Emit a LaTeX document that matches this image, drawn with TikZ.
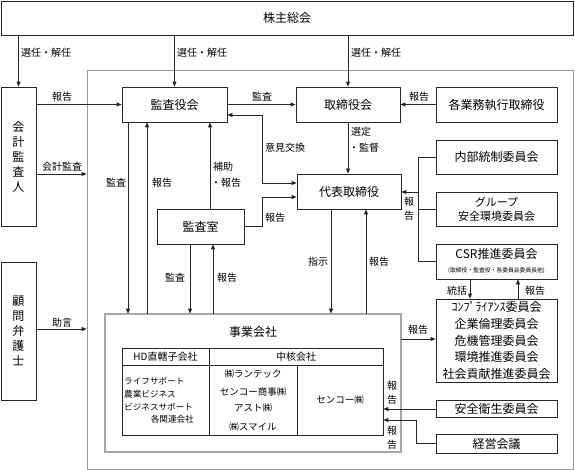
\documentclass[tikz,border=0pt]{standalone}
\usepackage{fontspec}
\setmainfont{Noto Sans CJK JP}
\usetikzlibrary{arrows.meta}
\begin{document}
\begin{tikzpicture}[x=1pt,y=-1pt,
  box/.style={draw=black!85, line width=0.8pt, inner sep=0pt, font=\fontsize{12}{14}\selectfont},
  lbl/.style={inner sep=0pt, font=\fontsize{10}{14}\selectfont, align=center},
  tbl/.style={inner sep=0pt, font=\fontsize{9.5}{12}\selectfont},
  arr/.style={-{Triangle[length=5pt,width=4pt]}, line width=0.8pt, draw=black!85},
  darr/.style={{Triangle[length=5pt,width=4pt]}-{Triangle[length=5pt,width=4pt]}, line width=0.8pt, draw=black!85},
  ln/.style={line width=0.8pt, draw=black!85}
]
\useasboundingbox (0,0) rectangle (575,470);
% outer frame
\node[draw=black!40, line width=0.8pt, minimum width=486pt, minimum height=399pt, inner sep=0pt] (frame) at (330,269.5) {};
% boxes
\node[box, minimum width=572pt, minimum height=34pt] (share) at (287,18) {株主総会};
\node[box, minimum width=35pt, minimum height=139pt, align=center, font=\fontsize{12}{15}\selectfont] (kaikei) at (18.5,156.5) {会\\計\\監\\査\\人};
\node[box, minimum width=35pt, minimum height=138pt, align=center, font=\fontsize{12}{15}\selectfont] (komon) at (18.5,331) {顧\\問\\弁\\護\\士};
\node[box, minimum width=105pt, minimum height=35pt] (kansa) at (174.5,104.5) {監査役会};
\node[box, minimum width=104pt, minimum height=35pt] (tori) at (348,104.5) {取締役会};
\node[box, minimum width=121pt, minimum height=35pt] (kaku) at (496.5,104.5) {各業務執行取締役};
\node[box, minimum width=121pt, minimum height=34pt] (naibu) at (496.5,157) {内部統制委員会};
\node[box, minimum width=121pt, minimum height=34pt, align=center, font=\fontsize{11}{14}\selectfont] (group) at (496.5,209) {グループ\\安全環境委員会};
\node[box, minimum width=121pt, minimum height=35pt] (csr) at (496.5,261.5) {};
\node[inner sep=0pt, font=\fontsize{12}{14}\selectfont] (csrt) at (496.5,254) {CSR推進委員会};
\node[inner sep=0pt, font=\fontsize{5.8}{7}\selectfont] (csrs) at (496.5,271) {(取締役・監査役・各委員会委員長他)};
\node[box, minimum width=121pt, minimum height=83pt, align=center, font=\fontsize{12}{16.6}\selectfont] (compl) at (496.5,340.5) {ｺﾝﾌﾟﾗｲｱﾝｽ委員会\\企業倫理委員会\\危機管理委員会\\環境推進委員会\\社会貢献推進委員会};
\node[box, minimum width=121pt, minimum height=17pt] (anzen) at (496.5,409) {安全衛生委員会};
\node[box, minimum width=121pt, minimum height=19pt] (keiei) at (496.5,443.5) {経営会議};
\node[box, minimum width=104pt, minimum height=35pt] (daihyo) at (349,191.5) {代表取締役};
\node[box, minimum width=87pt, minimum height=35pt] (shitsu) at (200.5,226.5) {監査室};
% jigyo
\node[draw=black!80, line width=0.7pt, double=black!35, double distance=1.2pt, minimum width=296pt, minimum height=138pt, inner sep=0pt] (jigyo) at (253,383) {};
\node[inner sep=0pt, font=\fontsize{12}{14}\selectfont] (jigyot) at (253,332) {事業会社};
\node[draw=black!85, line width=0.7pt, minimum width=261pt, minimum height=87pt, inner sep=0pt] (table) at (252.5,391.5) {};
\draw[line width=0.7pt, draw=black!85] (table.west |- 0,365) -- (table.east |- 0,365);
\draw[line width=0.7pt, draw=black!85] (209,348) -- (209,435);
\draw[line width=0.7pt, draw=black!85] (297,365) -- (297,435);
\node[tbl, font=\fontsize{10}{12}\selectfont] (hd) at (165.5,356.5) {HD直轄子会社};
\node[tbl, font=\fontsize{10}{12}\selectfont] (chukaku) at (296,356.5) {中核会社};
\node[tbl, anchor=west, font=\fontsize{8.6}{12}\selectfont] (c1a) at (124,381) {ライフサポート};
\node[tbl, anchor=west, font=\fontsize{8.6}{12}\selectfont] (c1b) at (124,394) {農業ビジネス};
\node[tbl, anchor=west, font=\fontsize{8.6}{12}\selectfont] (c1c) at (124,407) {ビジネスサポート};
\node[tbl, anchor=east, font=\fontsize{8.6}{12}\selectfont] (c1d) at (194,419) {各関連会社};
\node[tbl] (c2a) at (253,374) {㈱ランテック};
\node[tbl] (c2b) at (253,392) {センコー商事㈱};
\node[tbl] (c2c) at (253,408) {アスト㈱};
\node[tbl] (c2d) at (253,427) {㈱スマイル};
\node[tbl] (c3) at (340,400) {センコー㈱};
% top arrows
\draw[arr] (share.south -| kaikei.north) -- (kaikei.north);
\draw[arr] (share.south -| kansa.north) -- (kansa.north);
\draw[arr] (share.south -| tori.north) -- (tori.north);
\node[lbl, anchor=west] (sn1) at (21,53) {選任・解任};
\node[lbl, anchor=west] (sn2) at (177,53) {選任・解任};
\node[lbl, anchor=west] (sn3) at (351,53) {選任・解任};
% row 1
\draw[arr] (kansa.west -| kaikei.east) -- (kansa.west);
\node[lbl] (l1) at (62,97) {報告};
\draw[arr] (kansa.east) -- (tori.west);
\node[lbl] (l2) at (262,97) {監査};
\draw[arr] (kaku.west) -- (tori.east);
\node[lbl] (l3) at (419,97) {報告};
% left side
\draw[arr] (kaikei.east |- 0,174) -- (frame.west |- 0,174);
\node[lbl] (l4) at (62,167) {会計監査};
\draw[arr] (komon.east |- 0,329) -- (frame.west |- 0,329);
\node[lbl] (l5) at (62,323) {助言};
% torishimariyaku -> daihyo
\draw[arr] (tori.south) -- (daihyo.north -| tori.south);
\node[lbl, anchor=west] (l6) at (351,132) {選定};
\node[lbl, anchor=west] (l7) at (349,148) {・監督};
% iken
\draw[darr] (kansa.east |- 0,115) -- (262,115) -- (262,183) -- (daihyo.west |- 0,183);
\node[lbl, anchor=west] (l8) at (265,148) {意見交換};
% kansa <-> jigyo
\draw[arr] (kansa.south -| 128,0) -- (jigyo.north -| 128,0);
\draw[arr] (jigyo.north -| 147,0) -- (kansa.south -| 147,0);
\node[lbl] (l9) at (116,183) {監査};
\node[lbl] (l10) at (162,183) {報告};
% hojo
\draw[arr] (shitsu.north -| 210,0) -- (kansa.south -| 210,0);
\node[lbl, anchor=west] (l11) at (213,167) {補助};
\node[lbl, anchor=west] (l12) at (211,183) {・報告};
% shitsu -> daihyo
\draw[arr] (shitsu.east) -- (262,226.5) -- (262,197) -- (daihyo.west |- 0,197);
\node[lbl] (l13) at (275,218) {報告};
% shitsu <-> jigyo
\draw[arr] (shitsu.south -| 190,0) -- (jigyo.north -| 190,0);
\draw[arr] (jigyo.north -| 213,0) -- (shitsu.south -| 213,0);
\node[lbl] (l14) at (175,278) {監査};
\node[lbl] (l15) at (227,278) {報告};
% daihyo <-> jigyo
\draw[arr] (daihyo.south -| 331,0) -- (jigyo.north -| 331,0);
\draw[arr] (jigyo.north -| 366,0) -- (daihyo.south -| 366,0);
\node[lbl] (l16) at (318,262) {指示};
\node[lbl] (l17) at (379,262) {報告};
% right bracket
\draw[ln] (naibu.west) -- (418,157) -- (418,261.5) -- (csr.west);
\draw[ln] (group.west) -- (418,209);
\draw[arr] (418,192) -- (daihyo.east |- 0,192);
\node[lbl] (l18) at (409,209) {報\\告};
% csr <-> compl
\draw[arr] (csr.south -| 470,0) -- (compl.north -| 470,0);
\draw[arr] (compl.north -| 518,0) -- (csr.south -| 518,0);
\node[lbl] (l19) at (457,291) {統括};
\node[lbl] (l20) at (535,291) {報告};
% jigyo -> compl
\draw[arr] (jigyo.east |- 0,339) -- (compl.west |- 0,339);
\node[lbl] (l21) at (418,330) {報告};
% anzen, keiei
\draw[arr] (anzen.west) -- (table.east |- anzen.west);
\draw[arr] (keiei.west) -- (416,443.5) -- (416,420) -- (table.east |- 0,420);
\node[lbl] (l22) at (392,393) {報\\告};
\node[lbl] (l23) at (392,438) {報\\告};
\end{tikzpicture}
\end{document}
